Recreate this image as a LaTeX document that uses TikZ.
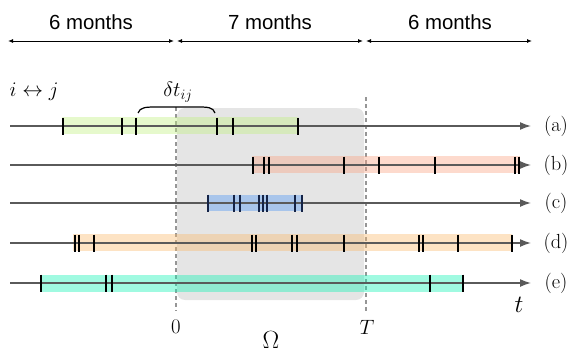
\documentclass[tikz,border=0pt]{standalone}
\usepackage{fontspec}
\setsansfont{Liberation Sans}
\usetikzlibrary{arrows.meta}
\definecolor{omegagray}{RGB}{229,229,229}
\definecolor{axisgray}{RGB}{90,90,90}
\definecolor{dashgray}{RGB}{150,150,150}
\definecolor{bandA}{RGB}{192,240,128}
\definecolor{bandB}{RGB}{250,162,130}
\definecolor{bandC}{RGB}{78,150,245}
\definecolor{bandD}{RGB}{250,185,108}
\definecolor{bandE}{RGB}{18,242,180}
\definecolor{navytick}{RGB}{20,35,70}
\tikzset{
  span/.style={{Latex[length=5pt,width=4pt]}-{Latex[length=5pt,width=4pt]}, line width=0.9pt, black},
  spanlabel/.style={font=\sffamily\fontsize{20.4}{24}\selectfont, inner sep=0pt},
  axisline/.style={-{Latex[length=11pt,width=8pt]}, line width=1.5pt, axisgray},
  band/.style={fill opacity=0.4},
  tickmark/.style={line width=1.6pt, black},
  bluetick/.style={line width=1.6pt, navytick},
  guide/.style={dashgray, line width=1.6pt, dash pattern=on 4pt off 3pt},
  rowlabel/.style={font=\fontsize{20.4}{24}\selectfont, inner sep=0pt},
  mathlabel/.style={font=\fontsize{20.4}{24}\selectfont, inner sep=0pt},
}
\newcommand{\ticksat}[3]{\foreach \xx in {#3} \draw[#1] (\xx,#2-8.5) -- (\xx,#2+8.5);}
\begin{document}
\begin{tikzpicture}[x=1pt,y=-1pt]
\useasboundingbox (0,0) rectangle (581,353);
% top spans
\coordinate (s0) at (8,41);
\coordinate (s1) at (174,41);
\coordinate (s2) at (177,41);
\coordinate (s3) at (363,41);
\coordinate (s4) at (366,41);
\coordinate (s5) at (532,41);
\draw[span] (s0) -- (s1);
\draw[span] (s2) -- (s3);
\draw[span] (s4) -- (s5);
\node[spanlabel] (m1) at (91,22) {6 months};
\node[spanlabel] (m2) at (270,22) {7 months};
\node[spanlabel] (m3) at (450,22) {6 months};
% Omega region
\fill[omegagray, rounded corners=8pt] (177,108) rectangle (364,300);
\coordinate (g0t) at (176,107);
\coordinate (g0b) at (176,311);
\coordinate (gTt) at (366,97);
\coordinate (gTb) at (366,311);
\draw[guide] (g0t) -- (g0b);
\draw[guide] (gTt) -- (gTb);
\node[mathlabel] (zero) at (176,327) {$0$};
\node[mathlabel] (tT) at (367,327) {$T$};
\node[inner sep=0pt, font=\fontsize{34}{38}\selectfont] (omega) at (271,340) {$\Omega$};
\node[inner sep=0pt, font=\fontsize{23}{26}\selectfont] (tlab) at (519,305) {$t$};
\node[mathlabel] (ij) at (34,92) {$i\leftrightarrow j$};
\node[inner sep=0pt, font=\fontsize{21.5}{24}\selectfont] (dt) at (178,92) {$\delta t_{ij}$};
% bands
\fill[band, bandA] (62,117) rectangle (298,134);
\fill[band, bandB] (252,156) rectangle (520,173);
\fill[band, bandC] (207,195) rectangle (302,211);
\fill[band, bandD] (73,234) rectangle (512,251);
\fill[band, bandE] (40,275) rectangle (463,292);
% axes
\foreach \r/\yy in {a/126, b/165, c/203, d/243, e/283} {
  \coordinate (\r0) at (10,\yy);
  \coordinate (\r1) at (531,\yy);
  \draw[axisline] (\r0) -- (\r1);
  \node[rowlabel] (lab\r) at (556,\yy) {(\r)};
}
% ticks
\ticksat{tickmark}{126}{63,122,136,217,233,298}
\ticksat{tickmark}{165}{253,264,269,344,379,435,515,519}
\ticksat{bluetick}{203}{208,234,240,259,263,267,295,302}
\ticksat{tickmark}{243}{75,79,94,252,256,292,297,344,419,423,458,512}
\ticksat{tickmark}{283}{41,106,112,430,463}
% brace
\coordinate (br0) at (138,113);
\coordinate (br1) at (215,113);
\draw[line width=1.2pt, black] (br0) .. controls (140,107) and (146,107) .. (158,107) -- (196,107) .. controls (208,107) and (213,107) .. (br1);
\end{tikzpicture}
\end{document}
